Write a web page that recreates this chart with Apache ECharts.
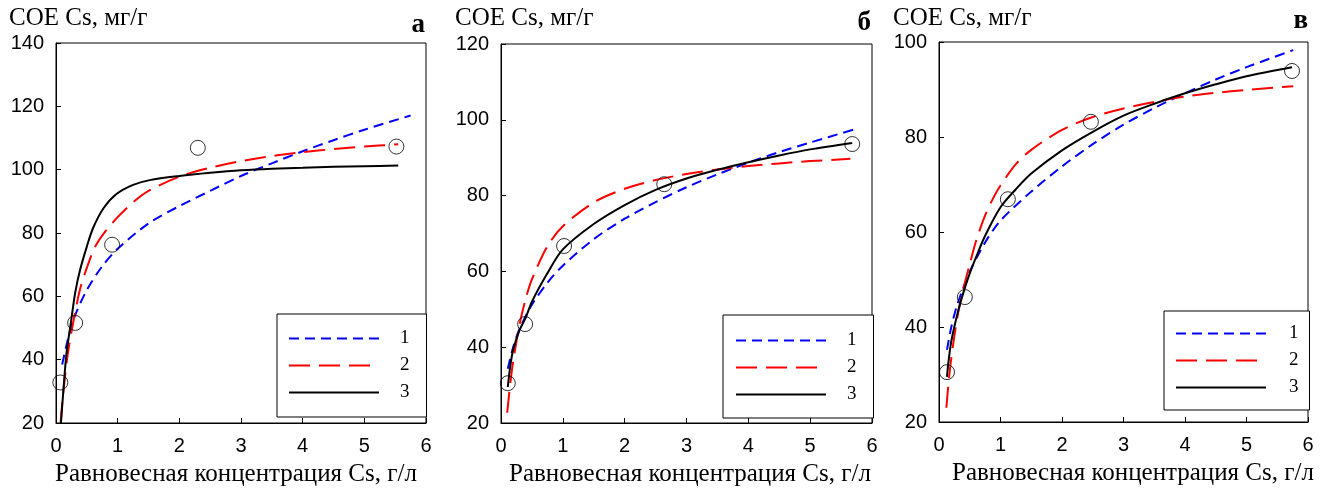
<!DOCTYPE html>
<html>
<head>
<meta charset="utf-8">
<script src="https://cdn.jsdelivr.net/npm/echarts@6/dist/echarts.min.js"></script>
<style>
html,body{margin:0;padding:0;background:#fff;}
#chart{width:1333px;height:494px;}
</style>
</head>
<body>
<div id="chart"></div>
<script>
// ---------- DATA ----------
const panelLetters = ['а', 'б', 'в'];
const yTitle = 'COE Cs, мг/г';
const xTitle = 'Равновесная концентрация Cs, г/л';
const legendNames = ['1', '2', '3'];
const xRange = [0, 6, 1];
const yRangeA = [20, 140, 20];
const yRangeB = [20, 120, 20];
const yRangeC = [20, 100, 20];

// Panel а
const ptsA_x = [0.07, 0.31, 0.91, 2.30, 5.52];
const ptsA_y = [32.8, 51.6, 76.3, 106.9, 107.3];
const curveA1_x = [0.1, 0.2, 0.3, 0.5, 0.75, 1, 1.5, 2, 2.5, 3, 3.5, 4, 4.5, 5, 5.75];
const curveA1_y = [38.5, 47, 53.5, 62, 69.5, 75, 83, 88.5, 93.3, 98, 102, 105.8, 109.3, 112.6, 117.1];
const curveA2_x = [0.075, 0.1, 0.15, 0.2, 0.3, 0.4, 0.5, 0.63, 0.8, 1, 1.25, 1.5, 2, 2.5, 3, 3.5, 4, 4.5, 5, 5.55];
const curveA2_y = [20, 26, 35.5, 43, 54, 63, 69, 75.5, 80.5, 85, 89.7, 93.3, 97.8, 100.6, 102.7, 104.3, 105.5, 106.5, 107.3, 108];
const curveA3_x = [0.08, 0.12, 0.17, 0.24, 0.31, 0.39, 0.5, 0.6, 0.77, 0.98, 1.25, 1.52, 2, 2.5, 3, 3.5, 4, 4.5, 5, 5.55];
const curveA3_y = [20, 30.4, 42, 51.5, 61, 68.3, 75.7, 81.5, 87.8, 92.3, 95.2, 96.7, 98, 99, 99.8, 100.3, 100.6, 100.9, 101.1, 101.3];

// Panel б
const ptsB_x = [0.11, 0.39, 1.02, 2.64, 5.68];
const ptsB_y = [30.5, 46.1, 66.7, 83.0, 93.6];
const curveB1_x = [0.11, 0.2, 0.3, 0.5, 0.75, 1, 1.5, 2, 2.5, 3, 3.5, 4, 4.5, 5, 5.7];
const curveB1_y = [34.3, 40.2, 44.8, 51.2, 57, 61.5, 68.5, 73.9, 78.3, 82.2, 85.6, 88.7, 91.5, 94, 97.4];
const curveB2_x = [0.1, 0.15, 0.2, 0.3, 0.4, 0.5, 0.75, 1, 1.5, 2, 2.5, 3, 3.5, 4, 4.5, 5, 5.65];
const curveB2_y = [22.7, 30.4, 36.6, 46, 52.8, 57.9, 66.6, 71.9, 78.2, 81.8, 84.1, 85.7, 86.9, 87.8, 88.5, 89.1, 89.7];
const curveB3_x = [0.11, 0.15, 0.2, 0.3, 0.4, 0.5, 0.75, 1, 1.5, 2, 2.5, 3, 3.5, 4, 4.5, 5, 5.68];
const curveB3_y = [29.5, 35, 39.5, 44.5, 47.8, 52, 59.5, 65.8, 72.5, 77.5, 81.5, 84.5, 86.8, 88.8, 90.6, 92.2, 93.9];

// Panel в
const ptsC_x = [0.13, 0.42, 1.12, 2.47, 5.74];
const ptsC_y = [30.5, 46.3, 66.9, 83.2, 93.9];
const curveC1_x = [0.13, 0.2, 0.3, 0.5, 0.75, 1, 1.5, 2, 2.5, 3, 3.5, 4, 4.5, 5, 5.76];
const curveC1_y = [35.2, 40, 44.8, 51.6, 57.8, 62.4, 68.5, 73.8, 78.5, 82.6, 86.1, 89.2, 92.1, 94.7, 98.3];
const curveC2_x = [0.12, 0.15, 0.2, 0.3, 0.4, 0.5, 0.6, 0.75, 0.9, 1, 1.25, 1.5, 2, 2.5, 3, 3.5, 4, 4.5, 5, 5.76];
const curveC2_y = [23, 27.5, 33.5, 42.2, 48.2, 53.2, 58, 63.5, 67.6, 69.8, 74.3, 77.3, 81.5, 84.2, 86, 87.4, 88.5, 89.3, 89.9, 90.7];
const curveC3_x = [0.13, 0.15, 0.2, 0.3, 0.4, 0.5, 0.6, 0.75, 1, 1.25, 1.5, 2, 2.5, 3, 3.5, 4, 4.5, 5, 5.74];
const curveC3_y = [29.5, 32.2, 37, 42.8, 47.4, 51.3, 54.6, 59.2, 65.2, 69, 72.3, 77.2, 81.1, 84.5, 87, 89.2, 91.1, 92.8, 94.7];

// ---------- BUILD ----------
const zip = (xs, ys) => xs.map((x, i) => [x, ys[i]]);
const panels = [
  {yr: yRangeA, pts: [ptsA_x, ptsA_y], curves: [[curveA1_x, curveA1_y], [curveA2_x, curveA2_y], [curveA3_x, curveA3_y]],
   grid: {left: 56, top: 43, width: 370, height: 380}, namePad: [0, 10, 0, 0],
   legend: {left: 277, top: 314, padding: [15, 17, 15, 11], textPad: 16},
   title: {x: 9, y: 20}, letter: {x: 425, y: 27}},
  {yr: yRangeB, pts: [ptsB_x, ptsB_y], curves: [[curveB1_x, curveB1_y], [curveB2_x, curveB2_y], [curveB3_x, curveB3_y]],
   grid: {left: 501, top: 44, width: 371, height: 379}, namePad: [0, 0, 0, 7],
   legend: {left: 723, top: 315, padding: [16, 17, 14, 12], textPad: 16},
   title: {x: 455, y: 20}, letter: {x: 871, y: 25}},
  {yr: yRangeC, pts: [ptsC_x, ptsC_y], curves: [[curveC1_x, curveC1_y], [curveC2_x, curveC2_y], [curveC3_x, curveC3_y]],
   grid: {left: 939, top: 42, width: 369, height: 380}, namePad: [0, 0, 0, 19],
   legend: {left: 1164, top: 311, padding: [13, 11, 13, 11], textPad: 18},
   title: {x: 893, y: 20}, letter: {x: 1308, y: 23}}
];

const curveStyles = [
  {color: '#0000ff', width: 2, type: [10, 6]},
  {color: '#ff0000', width: 2, type: [21, 9]},
  {color: '#000000', width: 2, type: 'solid'}
];

const sansFont = 'Liberation Sans';
const serifFont = 'Liberation Serif';

const grids = [], xAxes = [], yAxes = [], series = [], legends = [], graphics = [];
panels.forEach((p, i) => {
  grids.push(Object.assign({show: true, borderColor: '#000', borderWidth: 1, backgroundColor: 'transparent'}, p.grid));
  xAxes.push({
    type: 'value', gridIndex: i, min: xRange[0], max: xRange[1], interval: xRange[2],
    axisLine: {show: true, lineStyle: {color: '#000', width: 1}},
    axisTick: {show: true, inside: true, length: 5, lineStyle: {color: '#000'}},
    splitLine: {show: false},
    axisLabel: {color: '#000', fontFamily: sansFont, fontSize: 20, margin: 13},
    name: xTitle, nameLocation: 'middle', nameGap: 39,
    nameTextStyle: {color: '#000', fontFamily: serifFont, fontSize: 25, padding: p.namePad}
  });
  yAxes.push({
    type: 'value', gridIndex: i, min: p.yr[0], max: p.yr[1], interval: p.yr[2],
    axisLine: {show: true, lineStyle: {color: '#000', width: 1}},
    axisTick: {show: true, inside: true, length: 5, lineStyle: {color: '#000'}},
    splitLine: {show: false},
    axisLabel: {color: '#000', fontFamily: sansFont, fontSize: 20, margin: 12}
  });
  p.curves.forEach((c, k) => {
    series.push({
      name: legendNames[k], type: 'line', xAxisIndex: i, yAxisIndex: i,
      data: zip(c[0], c[1]), showSymbol: false, symbol: 'none',
      smooth: 0.3,
      lineStyle: curveStyles[k], itemStyle: {color: curveStyles[k].color},
      z: 3 + k, silent: true
    });
  });
  series.push({
    name: 'data', type: 'scatter', xAxisIndex: i, yAxisIndex: i,
    data: zip(p.pts[0], p.pts[1]), symbol: 'circle', symbolSize: 15,
    itemStyle: {color: 'rgba(0,0,0,0)', borderColor: '#000', borderWidth: 1},
    z: 10, silent: true
  });
  legends.push({
    data: legendNames, orient: 'vertical', left: p.legend.left, top: p.legend.top,
    padding: p.legend.padding, itemWidth: 90, itemHeight: 14, itemGap: 8,
    borderColor: '#000', borderWidth: 1, backgroundColor: '#fff',
    selectedMode: false,
    itemStyle: {opacity: 0, borderWidth: 0},
    textStyle: {color: '#000', fontFamily: serifFont, fontSize: 19, lineHeight: 14, padding: [0, 0, 0, p.legend.textPad]}
  });
  graphics.push({
    type: 'text', left: p.title.x, top: p.title.y - 14,
    style: {text: yTitle, fill: '#000', font: '25px "Liberation Serif"'}
  });
  graphics.push({
    type: 'text', right: 1333 - p.letter.x, top: p.letter.y - 15,
    style: {text: panelLetters[i], fill: '#000', font: 'bold 27px "Liberation Serif"'}
  });
});

const chart = echarts.init(document.getElementById('chart'), null, {renderer: 'canvas'});
chart.setOption({
  animation: false,
  backgroundColor: '#fff',
  grid: grids, xAxis: xAxes, yAxis: yAxes,
  series: series, legend: legends, graphic: graphics
});
</script>
</body>
</html>
